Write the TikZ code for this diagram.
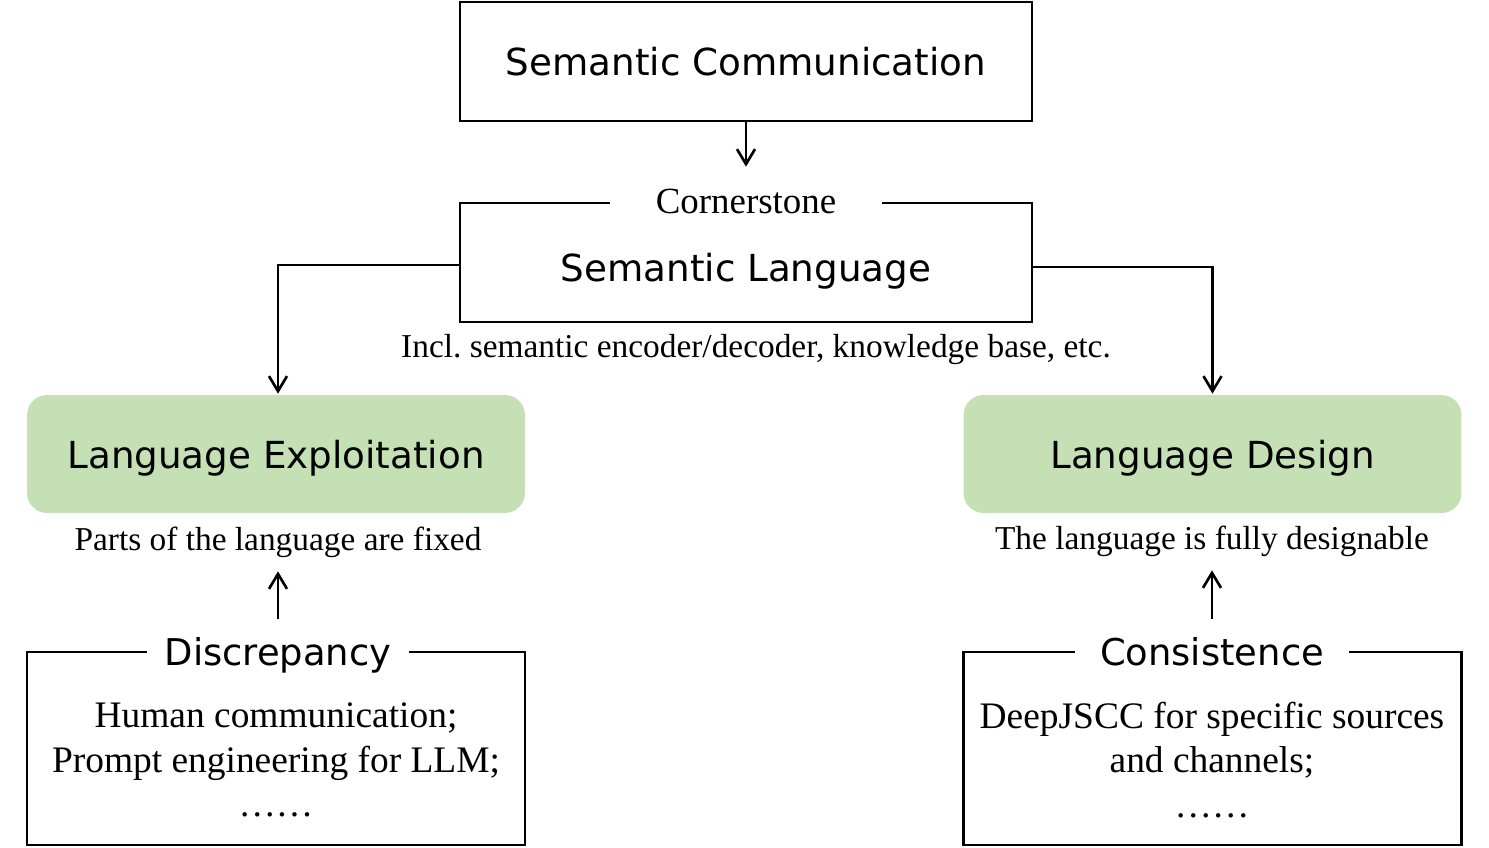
\documentclass[tikz,border=0pt]{standalone}
\usepackage{fontspec}
\setmainfont{Liberation Serif}
\setsansfont{DejaVu Sans}
\usetikzlibrary{arrows.meta}
\definecolor{leafgreen}{HTML}{C5E0B4}
\frenchspacing

\begin{document}
\begin{tikzpicture}[x=0.02cm, y=-0.02cm, line width=1.5pt,
    arr/.style={-{Straight Barb[length=3mm,width=3.6mm]}},
    framebox/.style={draw, minimum width=11.44cm, minimum height=2.38cm,
      font=\sffamily\fontsize{21.2}{25}\selectfont},
    greenbox/.style={fill=leafgreen, rounded corners=0.4cm, minimum width=9.96cm,
      minimum height=2.36cm, text height=16.6pt, text depth=0pt,
      font=\sffamily\fontsize{21.2}{25}\selectfont},
    casebox/.style={draw, minimum width=9.96cm, minimum height=3.86cm},
    tag/.style={fill=white, text height=15.3pt, text depth=0pt,
      font=\sffamily\fontsize{21}{25}\selectfont},
    note/.style={font=\rmfamily\fontsize{19}{22}\selectfont},
    body/.style={align=center, font=\rmfamily\fontsize{21.3}{25.5}\selectfont}]
  \useasboundingbox (0,0) rectangle (1489,848);

  % top of the tree
  \node[framebox] (comm) at (746,61.5) {Semantic Communication};
  \node[framebox, text height=21.7pt, text depth=0pt] (lang) at (746,262.5) {Semantic Language};
  \node[fill=white, font=\rmfamily\fontsize{21}{24}\selectfont, text height=13.9pt, text depth=0pt,
    minimum width=5.46cm, minimum height=1.32cm] (corner) at (746,201) {Cornerstone};
  \node[note] (incl) at (756,350) {Incl. semantic encoder/decoder, knowledge base, etc.};

  % the two branches
  \node[greenbox] (exploit) at (276,454) {Language Exploitation};
  \node[greenbox] (design) at (1212.5,454) {Language Design};
  \node[note, minimum height=1.12cm] (fixed) at (278,542) {Parts of the language are fixed};
  \node[note, minimum height=1.12cm] (free) at (1212,541) {The language is fully designable};

  % cases
  \node[casebox] (discbox) at (276,748.5) {};
  \node[casebox] (consbox) at (1212.5,748.5) {};
  \node[tag, minimum width=5.24cm, minimum height=1.28cm] (disc) at (278,652) {Discrepancy};
  \node[tag, minimum width=5.48cm, minimum height=1.28cm] (cons) at (1212,652) {Consistence};
  \node[body] (disctext) at (276,760) {Human communication;\\Prompt engineering for LLM;\\……};
  \node[body] (constext) at (1212,760) {DeepJSCC for specific sources\\and channels;\\……};

  % connectors
  \draw[arr] (comm) -- (corner);
  \draw[arr] ([yshift=-0.05cm]lang.west) -| ([xshift=0.04cm]exploit.north);
  \draw[arr] ([yshift=-0.09cm]lang.east) -| (design.north);
  \draw[arr] (disc) -- (fixed);
  \draw[arr] (cons) -- (free);
\end{tikzpicture}
\end{document}
